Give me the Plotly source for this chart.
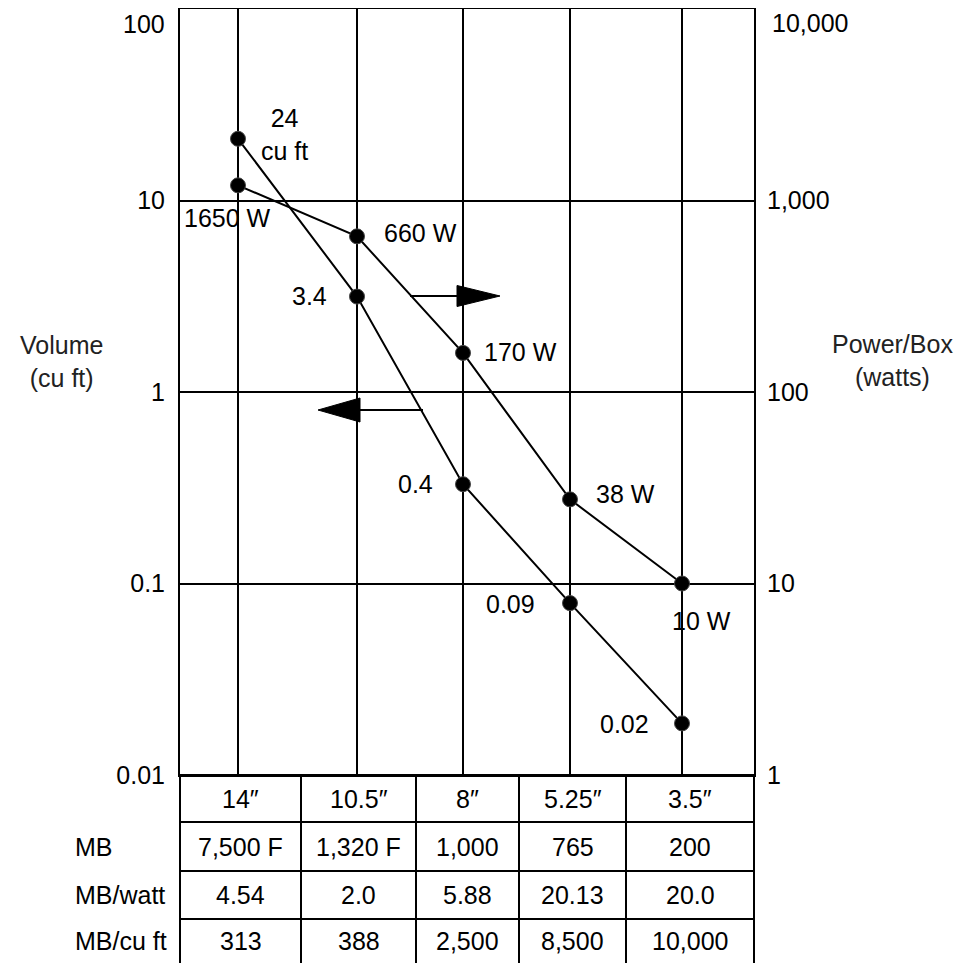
import math
import plotly.graph_objects as go

# ---------------- data ----------------
sizes = ['14″', '10.5″', '8″', '5.25″', '3.5″']
volume_cuft = [21.0, 3.15, 0.33, 0.079, 0.0186]
power_watts = [1200, 650, 160, 27.5, 10]
volume_labels = ['24<br>cu ft', '3.4', '0.4', '0.09', '0.02']
power_labels = ['1650 W', '660 W', '170 W', '38 W', '10 W']
row_names = ['MB', 'MB/watt', 'MB/cu ft']
mb = ['7,500 F', '1,320 F', '1,000', '765', '200']
mb_per_watt = ['4.54', '2.0', '5.88', '20.13', '20.0']
mb_per_cuft = ['313', '388', '2,500', '8,500', '10,000']
left_tickvals = [0.01, 0.1, 1, 10]
left_ticktext = ['0.01', '0.1', '1', '10']
right_tickvals = [1, 10, 100, 1000]
right_ticktext = ['1', '10', '100', '1,000']
left_top_label = '100'
right_top_label = '10,000'

# ---------------- layout constants (page pixels) ----------------
W, H = 975, 963
OFF = 8                                      # page body margin of the html page
L, R, T, B = 180, 754, 9, 775
GRID_X = [238, 357, 463, 570, 682]          # x positions of the size columns
TABLE_X = [180, 301, 416, 519, 626, 754]    # table column edges
TABLE_Y = [775, 822, 871, 919, 963]         # table row edges
FONT = 'Liberation Sans, Arial, sans-serif'
FS = 25


def px(x):
    return (x - L) / (R - L)


def py(y):
    return (B - y) / (B - T)


def txt(x, y, text, xanchor='center', color='black', size=FS):
    return dict(x=px(x), y=py(y), xref='paper', yref='paper', text=text,
                xanchor=xanchor, yanchor='middle', showarrow=False,
                font=dict(size=size, family=FONT, color=color))


fig = go.Figure()
marker = dict(color='black', size=15, line=dict(color='#444', width=1))
fig.add_trace(go.Scatter(x=GRID_X, y=volume_cuft, mode='lines+markers', yaxis='y',
                         line=dict(color='black', width=2), marker=marker,
                         showlegend=False, cliponaxis=False))
fig.add_trace(go.Scatter(x=GRID_X, y=power_watts, mode='lines+markers', yaxis='y2',
                         line=dict(color='black', width=2), marker=marker,
                         showlegend=False, cliponaxis=False))

ann = []
# point labels (annotation positions on log axes are given as log10 of the value)
vol_shift = [(46, 4), (-48, 1), (-48, 0), (-60, -1), (-58, -1)]
pow_shift = [(-11, -33), (63, 3), (57, 1), (55, 5), (19, -37)]
for i in range(5):
    ann.append(dict(x=GRID_X[i], y=math.log10(volume_cuft[i]), xref='x', yref='y',
                    text=volume_labels[i], showarrow=False, xanchor='center', yanchor='middle',
                    xshift=vol_shift[i][0], yshift=vol_shift[i][1],
                    font=dict(size=FS, family=FONT, color='black')))
    ann.append(dict(x=GRID_X[i], y=math.log10(power_watts[i]), xref='x', yref='y2',
                    text=power_labels[i], showarrow=False, xanchor='center', yanchor='middle',
                    xshift=pow_shift[i][0], yshift=pow_shift[i][1],
                    font=dict(size=FS, family=FONT, color='black')))

# top tick labels (shifted down as in the original)
ann.append(txt(167, 24, left_top_label, xanchor='right'))
ann.append(txt(770, 23, right_top_label, xanchor='left'))

# axis titles
ann.append(txt(61, 361, 'Volume<br>(cu ft)', color='#222'))
ann.append(txt(892, 360, 'Power/Box<br>(watts)', color='#222'))

# table text
rows = [sizes, mb, mb_per_watt, mb_per_cuft]
for r, vals in enumerate(rows):
    yc = (TABLE_Y[r] + TABLE_Y[r + 1]) / 2
    if r > 0:
        ann.append(txt(73, yc, row_names[r - 1], xanchor='left'))
    for c, v in enumerate(vals):
        xc = (TABLE_X[c] + TABLE_X[c + 1]) / 2
        ann.append(txt(xc, yc, v))

shapes = []
line = dict(color='black', width=2)
for xe in TABLE_X:
    shapes.append(dict(type='line', xref='paper', yref='paper', x0=px(xe), x1=px(xe),
                       y0=py(TABLE_Y[0]), y1=py(TABLE_Y[-1] + 3), line=line))
for ye in TABLE_Y[:-1]:
    shapes.append(dict(type='line', xref='paper', yref='paper', x0=px(TABLE_X[0]), x1=px(TABLE_X[-1]),
                       y0=py(ye), y1=py(ye), line=line))

# direction arrows
shapes.append(dict(type='line', xref='paper', yref='paper', x0=px(410), x1=px(458),
                   y0=py(296), y1=py(296), line=line))
shapes.append(dict(type='path', xref='paper', yref='paper',
                   path=f'M {px(457)},{py(285.5)} L {px(500)},{py(296)} L {px(457)},{py(306.5)} Z',
                   fillcolor='black', line=dict(color='black', width=1)))
shapes.append(dict(type='line', xref='paper', yref='paper', x0=px(423), x1=px(359),
                   y0=py(410), y1=py(410), line=line))
shapes.append(dict(type='path', xref='paper', yref='paper',
                   path=f'M {px(360)},{py(398)} L {px(318)},{py(410)} L {px(360)},{py(422)} Z',
                   fillcolor='black', line=dict(color='black', width=1)))

fig.update_layout(
    template='none',
    width=W, height=H,
    margin=dict(l=L - OFF, r=W - R + OFF, t=T - OFF, b=H - B + OFF, pad=0),
    paper_bgcolor='white', plot_bgcolor='white',
    font=dict(family=FONT, size=FS, color='black'),
    xaxis=dict(range=[L, R], tickvals=GRID_X, showticklabels=False, ticks='', automargin=False,
               showgrid=True, gridcolor='black', gridwidth=2, zeroline=False,
               showline=True, mirror=True, linecolor='black', linewidth=2, fixedrange=True),
    yaxis=dict(type='log', range=[-2, 2], tickvals=left_tickvals, ticktext=left_ticktext,
               ticks='', ticklabelstandoff=8, automargin=False,
               showgrid=True, gridcolor='black', gridwidth=2, zeroline=False,
               showline=True, mirror=True, linecolor='black', linewidth=2,
               tickfont=dict(size=FS, family=FONT, color='black')),
    yaxis2=dict(type='log', range=[0, 4], overlaying='y', side='right', automargin=False,
                tickvals=right_tickvals, ticktext=right_ticktext, ticks='', ticklabelstandoff=12,
                showgrid=False, showline=False, zeroline=False,
                tickfont=dict(size=FS, family=FONT, color='black')),
    annotations=ann, shapes=shapes, showlegend=False,
)

fig.write_html('out.html')
